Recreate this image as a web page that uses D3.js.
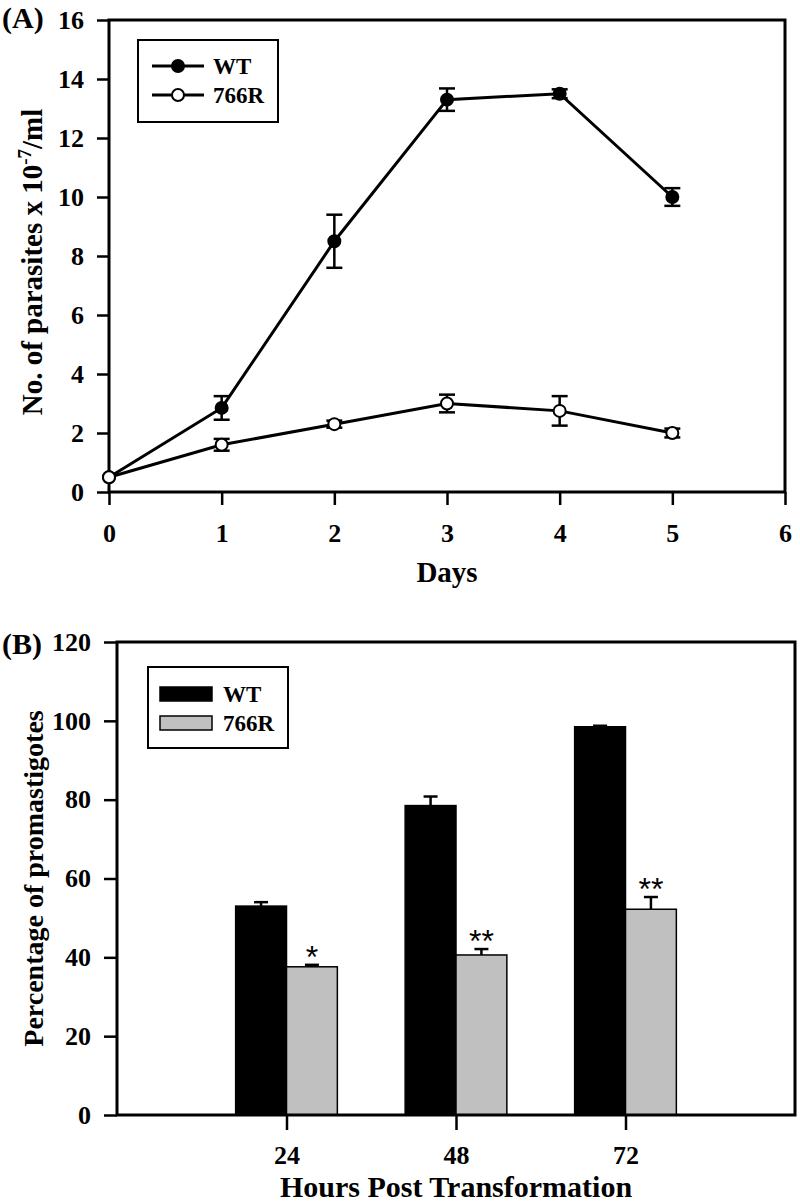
<!DOCTYPE html>
<html><head><meta charset="utf-8">
<script src="https://cdn.jsdelivr.net/npm/d3@7"></script>
<style>
body{margin:0;background:#fff;}
svg text{font-family:"Liberation Serif","Times New Roman",serif;font-weight:bold;fill:#000;}
</style></head>
<body>
<svg id="chart" width="800" height="1202"></svg>
<script>
// ---- Panel A data ----
const days = [0, 1, 2, 3, 4, 5];
const wtCounts = [0.5, 2.85, 8.5, 13.3, 13.5, 10.0];
const wtCountErr = [0, 0.4, 0.9, 0.38, 0.15, 0.3];
const mutCounts = [0.5, 1.6, 2.3, 3.0, 2.75, 2.0];
const mutCountErr = [0, 0.2, 0.12, 0.3, 0.5, 0.15];
const dayTicks = [0, 1, 2, 3, 4, 5, 6];
const countTicks = [0, 2, 4, 6, 8, 10, 12, 14, 16];
const seriesNames = ["WT", "766R"];

// ---- Panel B data ----
const hours = [24, 48, 72];
const wtPercent = [53.0, 78.5, 98.5];
const wtPercentErr = [1.0, 2.3, 0.25];
const mutPercent = [37.6, 40.6, 52.2];
const mutPercentErr = [0.5, 1.5, 3.1];
const significance = ["*", "**", "**"];
const percentTicks = [0, 20, 40, 60, 80, 100, 120];

const svg = d3.select("#chart");

function frame(g, x, y) {
  g.append("rect")
    .attr("x", x.range()[0]).attr("y", y.range()[1])
    .attr("width", x.range()[1] - x.range()[0])
    .attr("height", y.range()[0] - y.range()[1])
    .attr("fill", "none").attr("stroke", "#000").attr("stroke-width", 3);
}
function styleAxis(sel) {
  sel.select(".domain").remove();
  sel.selectAll(".tick line").attr("stroke", "#000").attr("stroke-width", 2.5);
  sel.selectAll(".tick text").style("font-size", "26px").attr("fill", "#000")
    .style("font-family", '"Liberation Serif",serif').style("font-weight", "bold");
}

// ================= Panel A =================
const xA = d3.scaleLinear().domain([0, 6]).range([109, 785]);
const yA = d3.scaleLinear().domain([0, 16]).range([492, 20]);
const gA = svg.append("g");

gA.append("g").attr("transform", `translate(0,${yA(0)})`)
  .call(d3.axisBottom(xA).tickValues(dayTicks).tickFormat(d3.format("d"))
    .tickSize(13).tickSizeOuter(0).tickPadding(19))
  .call(styleAxis);
gA.append("g").attr("transform", `translate(${xA(0)},0)`)
  .call(d3.axisLeft(yA).tickValues(countTicks).tickFormat(d3.format("d"))
    .tickSize(12).tickSizeOuter(0).tickPadding(13))
  .call(styleAxis);
frame(gA, xA, yA);

const line = d3.line().x(d => xA(d.x)).y(d => yA(d.y));
const seriesA = [
  { vals: wtCounts, err: wtCountErr, fill: "#000" },
  { vals: mutCounts, err: mutCountErr, fill: "#fff" }
];
seriesA.forEach(s => {
  const pts = days.map((d, i) => ({ x: d, y: s.vals[i], e: s.err[i] }));
  gA.append("path").datum(pts).attr("d", line)
    .attr("fill", "none").attr("stroke", "#000").attr("stroke-width", 3);
  const eb = gA.append("g");
  pts.filter(p => p.e > 0).forEach(p => {
    eb.append("line").attr("x1", xA(p.x)).attr("x2", xA(p.x))
      .attr("y1", yA(p.y - p.e)).attr("y2", yA(p.y + p.e))
      .attr("stroke", "#000").attr("stroke-width", 2.5);
    [p.y - p.e, p.y + p.e].forEach(v => {
      eb.append("line").attr("x1", xA(p.x) - 8).attr("x2", xA(p.x) + 8)
        .attr("y1", yA(v)).attr("y2", yA(v))
        .attr("stroke", "#000").attr("stroke-width", 2.5);
    });
  });
});
seriesA.forEach(s => {
  gA.append("g").selectAll("circle")
    .data(days.map((d, i) => ({ x: d, y: s.vals[i] })))
    .join("circle").attr("cx", d => xA(d.x)).attr("cy", d => yA(d.y)).attr("r", 6)
    .attr("fill", s.fill).attr("stroke", "#000").attr("stroke-width", 2);
});

// legend A
const lgA = gA.append("g");
lgA.append("rect").attr("x", 138).attr("y", 40).attr("width", 140).attr("height", 82)
  .attr("fill", "#fff").attr("stroke", "#000").attr("stroke-width", 2);
[66, 95].forEach((yy, i) => {
  lgA.append("line").attr("x1", 152).attr("x2", 204).attr("y1", yy).attr("y2", yy)
    .attr("stroke", "#000").attr("stroke-width", 3);
  lgA.append("circle").attr("cx", 178).attr("cy", yy).attr("r", 6)
    .attr("fill", seriesA[i].fill).attr("stroke", "#000").attr("stroke-width", 2);
  lgA.append("text").attr("x", 213).attr("y", yy + 8).style("font-size", "23px").text(seriesNames[i]);
});

// labels A
svg.append("text").attr("x", 2).attr("y", 28).style("font-size", "30px").text("(A)");
svg.append("text").attr("x", xA(3)).attr("y", 582).attr("text-anchor", "middle")
  .style("font-size", "29px").text("Days");
const ylabA = svg.append("text").attr("transform", "rotate(-90)")
  .attr("x", -(yA(0) + yA(16)) / 2 - 6).attr("y", 42).attr("text-anchor", "middle")
  .style("font-size", "29px");
ylabA.append("tspan").text("No. of parasites x 10");
ylabA.append("tspan").attr("dy", -11).style("font-size", "19px").text("-7");
ylabA.append("tspan").attr("dy", 11).text("/ml");

// ================= Panel B =================
const xB = d3.scaleLinear().domain([0, 96]).range([117, 795]);
const yB = d3.scaleLinear().domain([0, 120]).range([1115, 642]);
const barW = 7.2; // hours
const gB = svg.append("g");

gB.append("g").attr("transform", `translate(0,${yB(0)})`)
  .call(d3.axisBottom(xB).tickValues(hours).tickSize(15).tickSizeOuter(0).tickPadding(16))
  .call(styleAxis);
gB.append("g").attr("transform", `translate(${xB(0)},0)`)
  .call(d3.axisLeft(yB).tickValues(percentTicks).tickSize(13).tickSizeOuter(0).tickPadding(13))
  .call(styleAxis);

const seriesB = [
  { vals: wtPercent, err: wtPercentErr, fill: "#000", off: -barW },
  { vals: mutPercent, err: mutPercentErr, fill: "#c0c0c0", off: 0 }
];
seriesB.forEach(s => {
  hours.forEach((h, i) => {
    const x0 = xB(h + s.off), x1 = xB(h + s.off + barW);
    const cx = (x0 + x1) / 2;
    gB.append("line").attr("x1", cx).attr("x2", cx)
      .attr("y1", yB(s.vals[i])).attr("y2", yB(s.vals[i] + s.err[i]))
      .attr("stroke", "#000").attr("stroke-width", 2.5);
    gB.append("line").attr("x1", cx - 7).attr("x2", cx + 7)
      .attr("y1", yB(s.vals[i] + s.err[i])).attr("y2", yB(s.vals[i] + s.err[i]))
      .attr("stroke", "#000").attr("stroke-width", 2.5);
    gB.append("rect").attr("x", x0).attr("y", yB(s.vals[i]))
      .attr("width", x1 - x0).attr("height", yB(0) - yB(s.vals[i]))
      .attr("fill", s.fill).attr("stroke", "#000").attr("stroke-width", 1.5);
  });
});
// significance stars
hours.forEach((h, i) => {
  const cx = xB(h + barW / 2);
  gB.append("text").attr("x", cx).attr("y", yB(mutPercent[i] + mutPercentErr[i]) + 3)
    .attr("text-anchor", "middle")
    .style("font-family", '"Liberation Sans",sans-serif').style("font-weight", "normal")
    .style("font-size", "32px")
    .text(significance[i]);
});
frame(gB, xB, yB);

// legend B
const lgB = gB.append("g");
lgB.append("rect").attr("x", 148).attr("y", 667).attr("width", 140).attr("height", 81)
  .attr("fill", "#fff").attr("stroke", "#000").attr("stroke-width", 2);
[694, 723].forEach((yy, i) => {
  lgB.append("rect").attr("x", 160).attr("y", yy - 7).attr("width", 52).attr("height", 14)
    .attr("fill", seriesB[i].fill).attr("stroke", "#000").attr("stroke-width", 1.5);
  lgB.append("text").attr("x", 223).attr("y", yy + 8).style("font-size", "23px").text(seriesNames[i]);
});

svg.append("text").attr("x", 2).attr("y", 654).style("font-size", "30px").text("(B)");
svg.append("text").attr("x", xB(48)).attr("y", 1197).attr("text-anchor", "middle")
  .style("font-size", "30px").text("Hours Post Transformation");
svg.append("text").attr("transform", "rotate(-90)")
  .attr("x", -(yB(0) + yB(120)) / 2).attr("y", 43).attr("text-anchor", "middle")
  .style("font-size", "28px").text("Percentage of promastigotes");
</script>
</body></html>
